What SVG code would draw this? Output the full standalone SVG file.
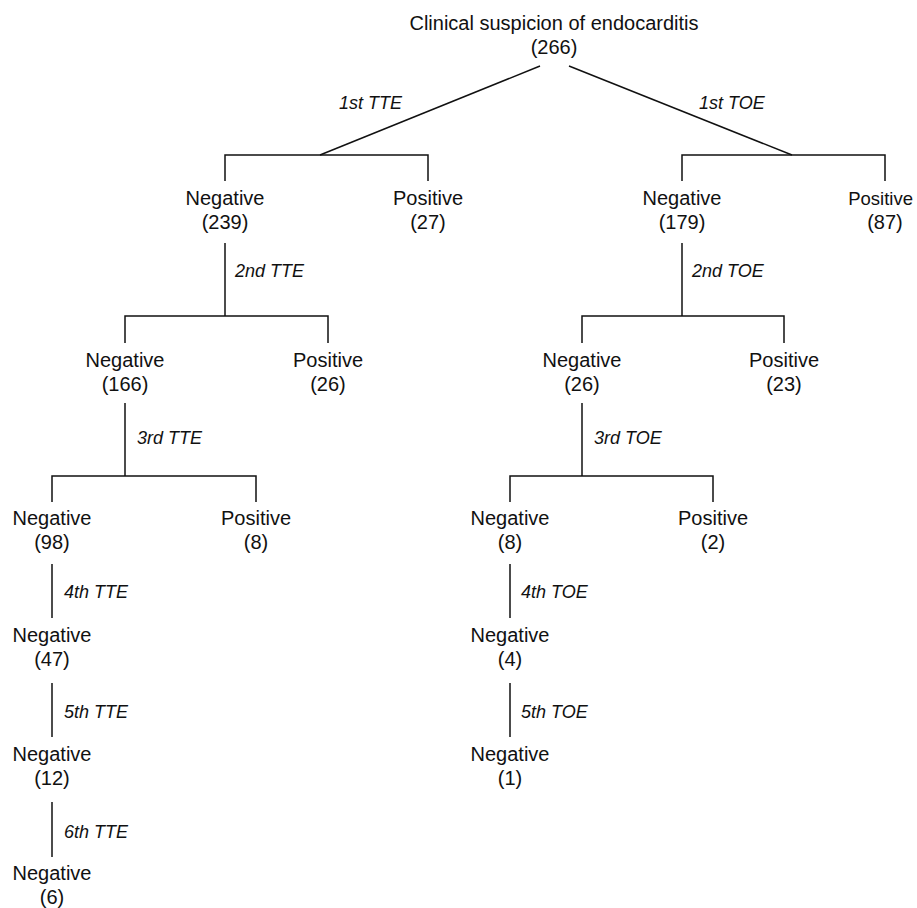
<svg xmlns="http://www.w3.org/2000/svg" width="917" height="908" viewBox="0 0 917 908">
<style>
text{font-family:"Liberation Sans",Arial,sans-serif;font-size:20px;fill:#111;}
.n{text-anchor:middle;}
.e{font-style:italic;font-size:18px;}
#connectors line,#connectors path{stroke:#111;stroke-width:1.5;fill:none;}
</style>
<rect width="917" height="908" fill="#fff"/>
<g id="connectors">
<line x1="540" y1="66" x2="320" y2="155"/>
<line x1="569" y1="66" x2="792" y2="155"/>
<path d="M225,181V155H428V181"/>
<path d="M682,181V155H885V181"/>
<path d="M225,243V316"/>
<path d="M125,343V316H328V343"/>
<path d="M682,243V316"/>
<path d="M582,343V316H784V343"/>
<path d="M125,403V476"/>
<path d="M52,502V476H256V502"/>
<path d="M582,403V476"/>
<path d="M510,502V476H713V502"/>
<path d="M52,564V618"/>
<path d="M52,683V737"/>
<path d="M52,802V857"/>
<path d="M510,564V618"/>
<path d="M510,683V737"/>
<g id="edge-labels">
<text class="e" x="339" y="109">1st TTE</text>
<text class="e" x="699" y="109">1st TOE</text>
<text class="e" x="235" y="277">2nd TTE</text>
<text class="e" x="692" y="277">2nd TOE</text>
<text class="e" x="137" y="444">3rd TTE</text>
<text class="e" x="594" y="444">3rd TOE</text>
<text class="e" x="64" y="598">4th TTE</text>
<text class="e" x="521" y="598">4th TOE</text>
<text class="e" x="64" y="718">5th TTE</text>
<text class="e" x="521" y="718">5th TOE</text>
<text class="e" x="64" y="838">6th TTE</text>
</g>
</g>
<g id="root"><text class="n" x="554" y="30">Clinical suspicion of endocarditis</text><text class="n" x="554" y="54">(266)</text></g>
<g id="tte1-neg"><text class="n" x="225" y="205">Negative</text><text class="n" x="225" y="229">(239)</text></g>
<g id="tte1-pos"><text class="n" x="428" y="205">Positive</text><text class="n" x="428" y="229">(27)</text></g>
<g id="toe1-neg"><text class="n" x="682" y="205">Negative</text><text class="n" x="682" y="229">(179)</text></g>
<g id="toe1-pos"><text x="913" y="205" style="text-anchor:end;font-size:18.5px">Positive</text><text class="n" x="885" y="229">(87)</text></g>
<g id="tte2-neg"><text class="n" x="125" y="367">Negative</text><text class="n" x="125" y="391">(166)</text></g>
<g id="tte2-pos"><text class="n" x="328" y="367">Positive</text><text class="n" x="328" y="391">(26)</text></g>
<g id="toe2-neg"><text class="n" x="582" y="367">Negative</text><text class="n" x="582" y="391">(26)</text></g>
<g id="toe2-pos"><text class="n" x="784" y="367">Positive</text><text class="n" x="784" y="391">(23)</text></g>
<g id="tte3-neg"><text class="n" x="52" y="525">Negative</text><text class="n" x="52" y="549">(98)</text></g>
<g id="tte3-pos"><text class="n" x="256" y="525">Positive</text><text class="n" x="256" y="549">(8)</text></g>
<g id="toe3-neg"><text class="n" x="510" y="525">Negative</text><text class="n" x="510" y="549">(8)</text></g>
<g id="toe3-pos"><text class="n" x="713" y="525">Positive</text><text class="n" x="713" y="549">(2)</text></g>
<g id="tte4-neg"><text class="n" x="52" y="642">Negative</text><text class="n" x="52" y="666">(47)</text></g>
<g id="toe4-neg"><text class="n" x="510" y="642">Negative</text><text class="n" x="510" y="666">(4)</text></g>
<g id="tte5-neg"><text class="n" x="52" y="761">Negative</text><text class="n" x="52" y="785">(12)</text></g>
<g id="toe5-neg"><text class="n" x="510" y="761">Negative</text><text class="n" x="510" y="785">(1)</text></g>
<g id="tte6-neg"><text class="n" x="52" y="880">Negative</text><text class="n" x="52" y="904">(6)</text></g>
</svg>
